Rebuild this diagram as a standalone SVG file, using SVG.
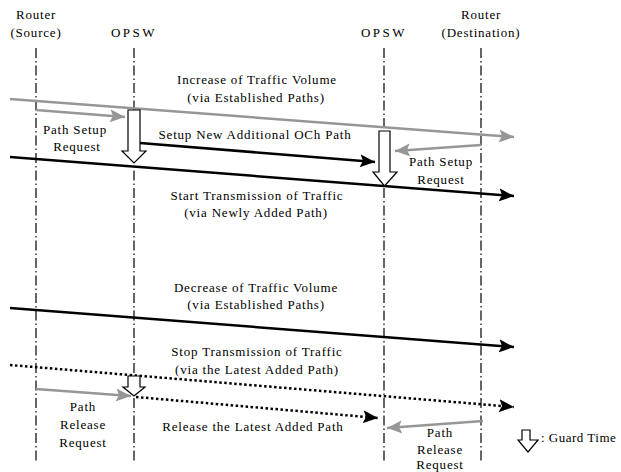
<svg xmlns="http://www.w3.org/2000/svg" width="621" height="472" viewBox="0 0 621 472">
<defs>
<style>
text{font-family:'Liberation Serif','Times New Roman',serif;font-size:13px;fill:#000;letter-spacing:0.8px;text-anchor:middle}
.life{stroke:#000;stroke-width:1.2;stroke-dasharray:10 3 1.5 3;fill:none}
.blk{stroke:#000;stroke-width:2.5;fill:none;marker-end:url(#ab)}
.dot{stroke:#000;stroke-width:2.5;fill:none;stroke-dasharray:2.5 2.5;marker-end:url(#ab)}
.gry{stroke:#969696;stroke-width:2.5;fill:none;marker-end:url(#ag)}
.guard{fill:#fff;stroke:#000;stroke-width:1.2}
</style>
<marker id="ab" markerUnits="userSpaceOnUse" markerWidth="17" markerHeight="14" refX="15" refY="6.5" orient="auto" viewBox="0 0 17 13"><path d="M0,0 L15,6.5 L0,13 L3,6.5 Z" fill="#000"/></marker>
<marker id="ag" markerUnits="userSpaceOnUse" markerWidth="17" markerHeight="14" refX="15" refY="6.5" orient="auto" viewBox="0 0 17 13"><path d="M0,0 L15,6.5 L0,13 L3,6.5 Z" fill="#969696"/></marker>
</defs>
<rect width="621" height="472" fill="#fff"/>

<g id="router-source"><text x="36" y="19">Router</text><text x="36" y="37">(Source)</text><line class="life" x1="36" y1="48" x2="36" y2="463"/></g>
<g id="opsw-left"><text x="134" y="37" style="letter-spacing:2.5px">OPSW</text><line class="life" x1="134" y1="48" x2="134" y2="463"/></g>
<g id="opsw-right"><text x="384" y="37" style="letter-spacing:2.5px">OPSW</text><line class="life" x1="384" y1="48" x2="384" y2="463"/></g>
<g id="router-dest"><text x="481" y="19">Router</text><text x="481" y="37">(Destination)</text><line class="life" x1="481" y1="48" x2="481" y2="463"/></g>

<g id="connectors">
<line class="gry" x1="10" y1="99" x2="514" y2="137"/>
<line class="gry" x1="36" y1="110" x2="125" y2="117"/>
<line class="blk" x1="140" y1="143" x2="375" y2="162"/>
<line class="gry" x1="481" y1="145" x2="395" y2="151"/>
<line class="blk" x1="10" y1="157" x2="514" y2="196"/>
<line class="blk" x1="10" y1="308" x2="514" y2="347"/>
<line class="dot" x1="10" y1="365" x2="514" y2="407"/>
<line class="gry" x1="36" y1="389" x2="131" y2="396"/>
<line class="dot" x1="136" y1="397" x2="378" y2="418"/>
<line class="gry" x1="483" y1="421" x2="387" y2="428"/>
</g>

<g id="guard-1"><path class="guard" d="M128,110 H140 V151 H146 L134,163 L122,151 H128 Z"/></g>
<g id="guard-2"><path class="guard" d="M379,131 H390 V172 H397 L384.5,186 L373,172 H379 Z"/></g>
<g id="guard-3"><path class="guard" d="M128,376 H140 V387 H145 L134,396 L123,387 H128 Z"/></g>

<g id="labels">
<text x="257" y="84">Increase of Traffic Volume</text>
<text x="256" y="102">(via Established Paths)</text>
<text x="75" y="134">Path Setup</text>
<text x="77" y="151">Request</text>
<text x="255" y="139">Setup New Additional OCh Path</text>
<text x="441" y="166">Path Setup</text>
<text x="441" y="184">Request</text>
<text x="257" y="200">Start Transmission of Traffic</text>
<text x="256" y="217">(via Newly Added Path)</text>
<text x="256" y="292">Decrease of Traffic Volume</text>
<text x="256" y="309">(via Established Paths)</text>
<text x="257" y="356">Stop Transmission of Traffic</text>
<text x="257" y="374">(via the Latest Added Path)</text>
<text x="83" y="411">Path</text>
<text x="83" y="429">Release</text>
<text x="83" y="447">Request</text>
<text x="253" y="431">Release the Latest Added Path</text>
<text x="440" y="437">Path</text>
<text x="440" y="454">Release</text>
<text x="440" y="469">Request</text>
</g>

<g id="legend">
<path class="guard" d="M522,430 H530 V440 H538 L528,452 L518,440 H522 Z"/>
<text x="541" y="442" style="text-anchor:start;letter-spacing:0.5px">: Guard Time</text>
</g>
</svg>
